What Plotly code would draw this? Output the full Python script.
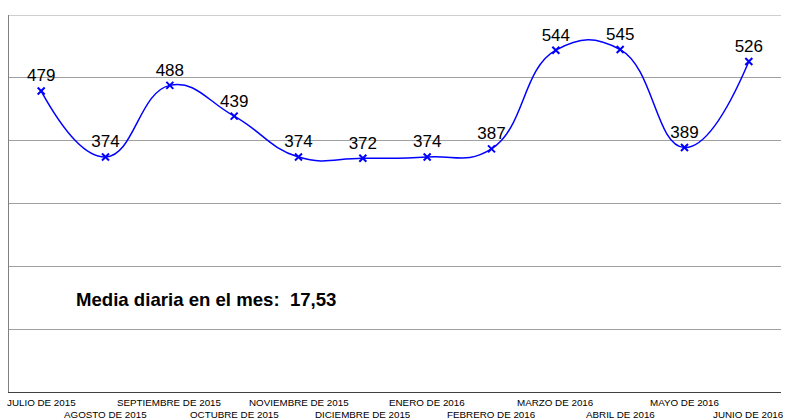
import plotly.graph_objects as go

months = ["JULIO DE 2015", "AGOSTO DE 2015", "SEPTIEMBRE DE 2015", "OCTUBRE DE 2015",
          "NOVIEMBRE DE 2015", "DICIEMBRE DE 2015", "ENERO DE 2016", "FEBRERO DE 2016",
          "MARZO DE 2016", "ABRIL DE 2016", "MAYO DE 2016", "JUNIO DE 2016"]
values = [479, 374, 488, 439, 374, 372, 374, 387, 544, 545, 389, 526]
note_text = "Media diaria en el mes:\u00a0\u00a017,53"

FONT = "Arial, Liberation Sans, sans-serif"
GRID = "#a0a0a0"

fig = go.Figure()
fig.add_trace(go.Scatter(
    x=months, y=values,
    mode="lines+markers+text",
    line=dict(color="#0000ff", width=1.5, shape="spline", smoothing=1.3),
    marker=dict(symbol="x-thin", size=7, color="#0000ff", line=dict(width=2, color="#0000ff")),
    text=[str(v) for v in values],
    textposition="top center",
    textfont=dict(family=FONT, size=17, color="#000000"),
    cliponaxis=False,
    hoverinfo="skip",
))

annotations = []
for i, m in enumerate(months):
    annotations.append(dict(
        x=m, xref="x", y=0, yref="paper",
        text=m, showarrow=False,
        xanchor="center", yanchor="middle",
        yshift=-10 if i % 2 == 0 else -22.5,
        font=dict(family=FONT, size=9.8, color="#000000"),
    ))
annotations.append(dict(
    x=0.084, xref="paper", y=148, yref="y",
    text="<b>" + note_text + "</b>", showarrow=False,
    xanchor="left", yanchor="middle",
    font=dict(family=FONT, size=18.6, color="#000000"),
))

fig.update_layout(
    width=788, height=419,
    margin=dict(l=9, r=7, t=15, b=27),
    paper_bgcolor="#ffffff", plot_bgcolor="#ffffff",
    showlegend=False,
    annotations=annotations,
    shapes=[dict(type="line", xref="paper", x0=0, x1=1, yref="y", y0=600, y1=600,
                 line=dict(color=GRID, width=1), layer="below")],
    xaxis=dict(type="category", range=[-0.5, 11.5], showgrid=False, showticklabels=False,
               ticks="", showline=True, linecolor="#404040", linewidth=1, zeroline=False),
    yaxis=dict(range=[0, 600], dtick=100, tick0=0, showticklabels=False, ticks="",
               showgrid=True, gridcolor=GRID, gridwidth=1,
               showline=True, linecolor="#808080", linewidth=1, zeroline=False),
)

fig.write_html("out.html",
               config={"displayModeBar": False, "staticPlot": True},
               post_script="document.body.style.margin='0';document.body.style.overflow='hidden';")
